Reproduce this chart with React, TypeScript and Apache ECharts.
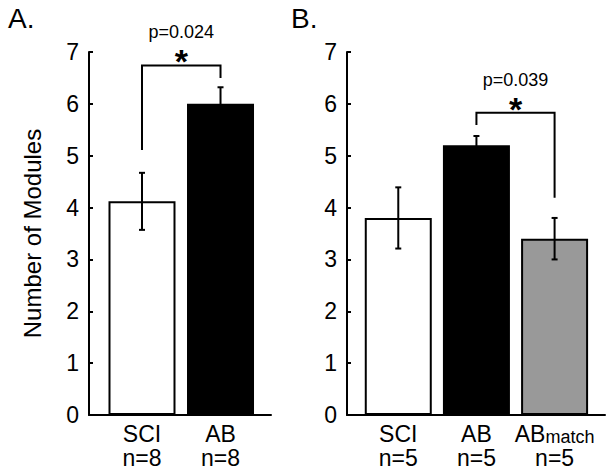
import React, { useEffect, useRef } from "react";
import * as echarts from "echarts";

const F = '"Liberation Sans", Arial, Helvetica, sans-serif';

// Panel A
const groupsA = ["SCI", "AB"];
const nA = [8, 8];
const meansA = [4.12, 6.0];
const errA = [0.55, 0.32];
// bracket: [xLeft, xRight, yLeftEnd, yTop, yRightEnd]
const bracketA = [1, 2, 5.11, 6.74, 6.5];
const pA = "p=0.024";

// Panel B
const groupsB = ["SCI", "AB", "ABmatch"];
const nB = [5, 5, 5];
const meansB = [3.8, 5.2, 3.4];
const errB = [0.59, 0.18, 0.4];
const bracketB = [2, 3, 5.59, 5.83, 4.19];
const pB = "p=0.039";

const barColors = ["#ffffff", "#000000", "#999999"];
const yTicks = [0, 1, 2, 3, 4, 5, 6, 7];

function xLabel(groups: string[], ns: number[]) {
  return (v: number) => {
    const i = Math.round(v) - 1;
    if (i < 0 || i >= groups.length) return "";
    const g = groups[i];
    if (g === "ABmatch") return "{a|AB}{s|match}\n{a|n=" + ns[i] + "}";
    return "{a|" + g + "}\n{a|n=" + ns[i] + "}";
  };
}

function barData(means: number[]) {
  return means.map((m, i) => ({
    value: [i + 1, m],
    itemStyle: { color: barColors[i], borderColor: "#000", borderWidth: 2 },
  }));
}

function errData(means: number[], errs: number[]) {
  return means.map((m, i) => [i + 1, m - errs[i], m + errs[i]]);
}

const errRender = (params: any, api: any) => {
  const x = api.value(0);
  const lo = api.coord([x, api.value(1)]);
  const hi = api.coord([x, api.value(2)]);
  const c = 3;
  const st = { stroke: "#000", lineWidth: 2 };
  return {
    type: "group",
    children: [
      { type: "line", shape: { x1: lo[0], y1: lo[1], x2: hi[0], y2: hi[1] }, style: st },
      { type: "line", shape: { x1: lo[0] - c, y1: lo[1], x2: lo[0] + c, y2: lo[1] }, style: st },
      { type: "line", shape: { x1: hi[0] - c, y1: hi[1], x2: hi[0] + c, y2: hi[1] }, style: st },
    ],
  };
};

function bracketRender(ptext: string) {
  return (params: any, api: any) => {
    const x1 = api.value(0);
    const x2 = api.value(1);
    const a = api.coord([x1, api.value(2)]);
    const b = api.coord([x1, api.value(3)]);
    const c = api.coord([x2, api.value(3)]);
    const d = api.coord([x2, api.value(4)]);
    const mid = (b[0] + c[0]) / 2;
    return {
      type: "group",
      children: [
        {
          type: "polyline",
          shape: { points: [a, b, c, d] },
          style: { stroke: "#000", lineWidth: 2, fill: "none" },
        },
        {
          type: "text",
          x: mid,
          y: b[1] + 13,
          style: {
            text: "*",
            fill: "#000",
            font: "bold 34px " + F,
            align: "center",
            textAlign: "center",
            verticalAlign: "bottom",
            textVerticalAlign: "bottom",
          },
        },
        {
          type: "text",
          x: mid,
          y: b[1] - 33,
          style: {
            text: ptext,
            fill: "#000",
            font: "18px " + F,
            align: "center",
            textAlign: "center",
            verticalAlign: "middle",
            textVerticalAlign: "middle",
          },
        },
      ],
    };
  };
}

export default function App() {
  const ref = useRef<HTMLDivElement>(null);
  useEffect(() => {
    document.body.style.margin = "0";
    const chart = echarts.init(ref.current!, null, { renderer: "svg" });
    const axisLine = { show: true, onZero: false, lineStyle: { color: "#000", width: 2 } };
    const xAxisBase = (groups: string[], ns: number[], min: number, max: number, gi: number) => ({
      gridIndex: gi,
      type: "value",
      min,
      max,
      axisLine,
      axisTick: { show: false },
      splitLine: { show: false },
      axisLabel: {
        customValues: groups.map((_, i) => i + 1),
        formatter: xLabel(groups, ns),
        color: "#000",
        margin: 7,
        rich: {
          a: { fontSize: 23, fontFamily: F, color: "#000", lineHeight: 24 },
          s: { fontSize: 18, fontFamily: F, color: "#000", lineHeight: 24, verticalAlign: "bottom" },
        },
      },
    });
    const yAxisBase = (gi: number, name?: string) => ({
      gridIndex: gi,
      type: "value",
      min: yTicks[0],
      max: yTicks[yTicks.length - 1],
      interval: 1,
      name: name || "",
      nameLocation: "middle",
      nameGap: 45,
      nameTextStyle: { fontSize: 24, fontFamily: F, color: "#000" },
      axisLine,
      axisTick: { show: true, inside: true, length: 4, lineStyle: { color: "#000", width: 2 } },
      axisLabel: { fontSize: 23, fontFamily: F, color: "#000", margin: 10 },
      splitLine: { show: false },
    });
    chart.setOption({
      animation: false,
      textStyle: { fontFamily: F },
      title: [
        { text: "A.", left: 8, top: 4, padding: 0, textStyle: { fontSize: 28, fontWeight: "normal", color: "#000", fontFamily: F } },
        { text: "B.", left: 291, top: 4, padding: 0, textStyle: { fontSize: 28, fontWeight: "normal", color: "#000", fontFamily: F } },
      ],
      grid: [
        { left: 89, top: 52, width: 182, height: 363 },
        { left: 347, top: 52, width: 258, height: 363 },
      ],
      xAxis: [
        xAxisBase(groupsA, nA, 0.325, 2.643, 0),
        xAxisBase(groupsB, nB, 0.344, 3.645, 1),
      ],
      yAxis: [yAxisBase(0, "Number of Modules"), yAxisBase(1)],
      series: [
        { type: "bar", xAxisIndex: 0, yAxisIndex: 0, barWidth: 67, data: barData(meansA) },
        { type: "bar", xAxisIndex: 1, yAxisIndex: 1, barWidth: 67, data: barData(meansB) },
        { type: "custom", xAxisIndex: 0, yAxisIndex: 0, renderItem: errRender, data: errData(meansA, errA), clip: false, z: 5 },
        { type: "custom", xAxisIndex: 1, yAxisIndex: 1, renderItem: errRender, data: errData(meansB, errB), clip: false, z: 5 },
        { type: "custom", xAxisIndex: 0, yAxisIndex: 0, renderItem: bracketRender(pA), data: [bracketA], clip: false, z: 5 },
        { type: "custom", xAxisIndex: 1, yAxisIndex: 1, renderItem: bracketRender(pB), data: [bracketB], clip: false, z: 5 },
      ],
    });
    return () => chart.dispose();
  }, []);
  return <div ref={ref} style={{ width: 615, height: 474 }} />;
}
